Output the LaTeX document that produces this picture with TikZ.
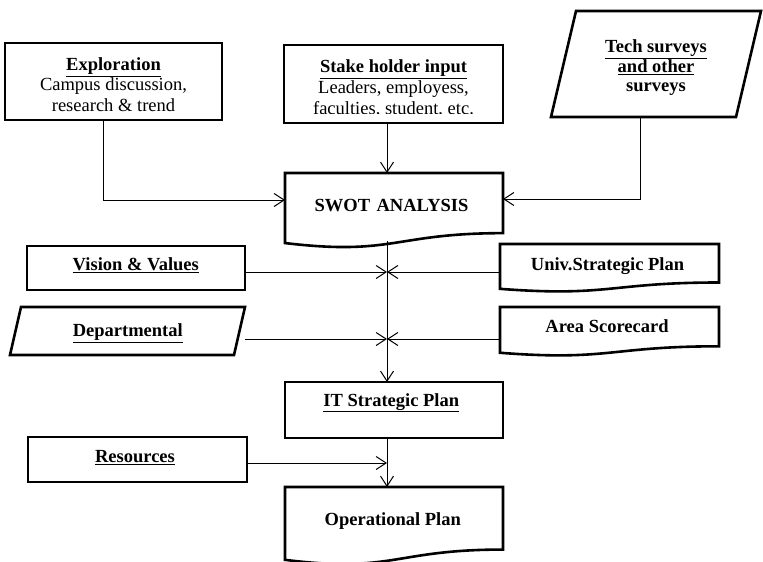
\documentclass[tikz,border=0pt]{standalone}
\usepackage{fontspec}
\setmainfont{Liberation Serif}
\usetikzlibrary{arrows.meta,calc}

\tikzset{
  x=1pt, y=-1pt,
  boxline/.style={line width=2.6pt, line join=miter},
  frame/.style={draw, boxline, rectangle, inner sep=0pt, outer sep=0pt},
  shell/.style={rectangle, inner sep=0pt, outer sep=0pt},
  txt/.style={font=\fontsize{18.5}{20.2}\selectfont, align=center, inner sep=0pt, anchor=base},
  head/.style={txt, font=\fontsize{18.5}{20.2}\selectfont\bfseries},
  conn/.style={line width=1pt, -{Straight Barb[length=10pt,width=13pt]}},
}

% outline of a flow-chart "document" symbol drawn on a shell node
\newcommand\docoutline[1]{%
  \draw[boxline] (#1.north west) -- (#1.north east)
    -- ($(#1.north east)!0.802!(#1.south east)$)
    .. controls ($(#1.north)!0.802!(#1.south)$) and ($(#1.north)!1.107!(#1.south)$)
    .. ($(#1.north west)!0.934!(#1.south west)$) -- cycle;}
% outline of a slanted input/output symbol drawn on a shell node
\newcommand\slantoutline[2]{%
  \draw[boxline] ($(#1.north west)+(#2,0)$) -- (#1.north east)
    -- ($(#1.south east)-(#2,0)$) -- (#1.south west) -- cycle;}

\begin{document}
\begin{tikzpicture}
\useasboundingbox (0,0) rectangle (763,562);

% ---- boxes ----
\node[frame, minimum width=217, minimum height=77] (expl) at (113.5,81.5) {};
\node[frame, minimum width=219, minimum height=78] (stake) at (393.5,84) {};
\node[shell, minimum width=210, minimum height=106] (tech) at (656,64) {};
\slantoutline{tech}{25}
\node[shell, minimum width=218, minimum height=75] (swot) at (394,210.5) {};
\docoutline{swot}
\node[frame, minimum width=218, minimum height=44] (vision) at (136,268) {};
\node[shell, minimum width=219, minimum height=48] (univ) at (609.5,268) {};
\docoutline{univ}
\node[shell, minimum width=235, minimum height=48] (dept) at (127.5,331) {};
\slantoutline{dept}{11}
\node[shell, minimum width=219, minimum height=49] (area) at (609.5,331.5) {};
\docoutline{area}
\node[frame, minimum width=218, minimum height=56] (it) at (394,410) {};
\node[frame, minimum width=219, minimum height=45] (res) at (137.5,459.5) {};
\node[shell, minimum width=218, minimum height=78] (op) at (394,526) {};
\docoutline{op}

% ---- texts (multi-line nodes sit on the baseline of their last line) ----
\node[txt] (explT) at (113.5,111)
  {\textbf{\underline{Exploration}}\\Campus discussion,\\research \& trend};
\begin{scope}
  \clip (stake.north west) rectangle (stake.east |- 0,113);
  \node[txt, font=\fontsize{18.5}{21}\selectfont] (stakeT) at (393.5,114.5)
    {\textbf{\underline{Stake holder input}}\\Leaders, employess,\\faculties, student, etc.};
\end{scope}
\node[head, font=\fontsize{18.5}{19.5}\selectfont\bfseries] (techT) at (656,91.7)
  {\underline{Tech surveys}\\\underline{and other}\\surveys};
\node[head] (swotT) at (391.5,211) {SWOT\hspace{0.35em}ANALYSIS};
\node[head] (visionT) at (135.8,270.7) {\underline{Vision \& Values}};
\node[head] (univT) at (607.5,270) {Univ.Strategic Plan};
\node[head] (deptT) at (127.8,336.7) {\underline{Departmental}};
\node[head] (areaT) at (607,332.7) {Area Scorecard};
\node[head] (itT) at (391.3,406) {\underline{IT\ Strategic Plan}};
\node[head] (resT) at (135,462.7) {\underline{Resources}};
\node[head] (opT) at (392.8,525) {Operational Plan};

% ---- junctions on the main trunk ----
\coordinate (trunk) at (387,241);
\coordinate (j1) at (387,272);
\coordinate (j2) at (387,339);
\coordinate (j3) at (387,463);

% ---- connectors ----
\draw[conn] (expl.south -| 103,0) |- (swot.west |- 0,200);
\draw[conn] (stake.south -| trunk) -- (swot.north -| trunk);
\draw[conn] (tech.south -| 640,0) |- (swot.east |- 0,199);
\draw[conn] (trunk) -- (it.north -| trunk);
\draw[conn] (vision.east |- j1) -- (j1);
\draw[conn] (univ.west |- j1) -- (j1);
\draw[conn] (dept.east |- j2) -- (j2);
\draw[conn] (area.west |- j2) -- (j2);
\draw[conn] (it.south -| trunk) -- (op.north -| trunk);
\draw[conn] (res.east |- j3) -- (j3);
\end{tikzpicture}
\end{document}
